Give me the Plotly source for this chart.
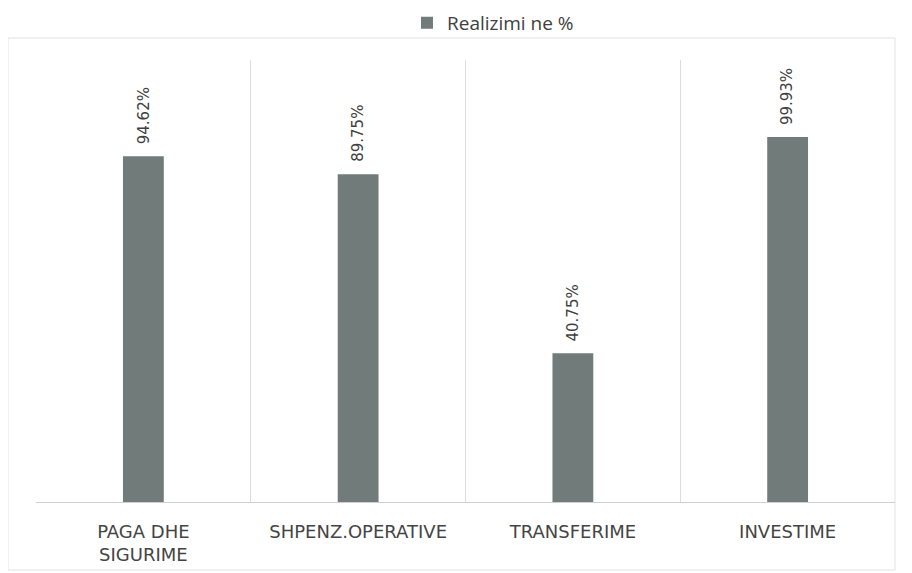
import plotly.graph_objects as go

# kategoriene og realiseringen i prosent
kategorier = ["PAGA DHE<br>SIGURIME", "SHPENZ.OPERATIVE", "TRANSFERIME", "INVESTIME"]
realizimi = [94.62, 89.75, 40.75, 99.93]
etiketter = ["94.62%", "89.75%", "40.75%", "99.93%"]

fig = go.Figure()
fig.add_trace(
    go.Bar(
        x=kategorier,
        y=realizimi,
        name="Realizimi ne %",
        marker=dict(color="#717b79", line=dict(width=0)),
        width=0.19,
        cliponaxis=False,
    )
)

# verdietiketter, rotert, litt over søylene
for k, v, t in zip(kategorier, realizimi, etiketter):
    fig.add_annotation(
        x=k,
        y=v,
        text=t,
        textangle=-90,
        showarrow=False,
        xanchor="center",
        yanchor="bottom",
        yshift=10,
        font=dict(family="DejaVu Sans, sans-serif", size=15, color="#404040"),
    )

# siden har 8px kant i nettleseren, derfor litt mindre figur
fig.update_layout(
    width=904,
    height=565,
    margin=dict(l=28, r=17, t=52, b=71, autoexpand=False),
    paper_bgcolor="white",
    plot_bgcolor="white",
    font=dict(family="DejaVu Sans, sans-serif", color="#333333"),
    showlegend=True,
    legend=dict(
        orientation="h",
        x=0.532,
        xanchor="center",
        y=1.084,
        yanchor="middle",
        bgcolor="rgba(0,0,0,0)",
        font=dict(family="Open Sans, sans-serif", size=19, color="#404040"),
    ),
    shapes=[
        dict(
            type="rect",
            xref="paper",
            yref="paper",
            x0=-0.0326,
            x1=1.0,
            y0=-0.154,
            y1=1.0498,
            line=dict(color="#e2e2e2", width=1),
            layer="below",
        )
    ],
)

fig.update_xaxes(
    type="category",
    range=[-0.5, 3.5],
    showgrid=True,
    gridcolor="#dcdcdc",
    tickson="boundaries",
    ticks="",
    ticklabelstandoff=13,
    showline=True,
    linecolor="#cfcfcf",
    tickfont=dict(family="DejaVu Sans, sans-serif", size=18, color="#444444"),
)
fig.update_yaxes(
    range=[0, 121],
    showgrid=False,
    showticklabels=False,
    zeroline=False,
    showline=False,
)

fig.write_html("out.html")
